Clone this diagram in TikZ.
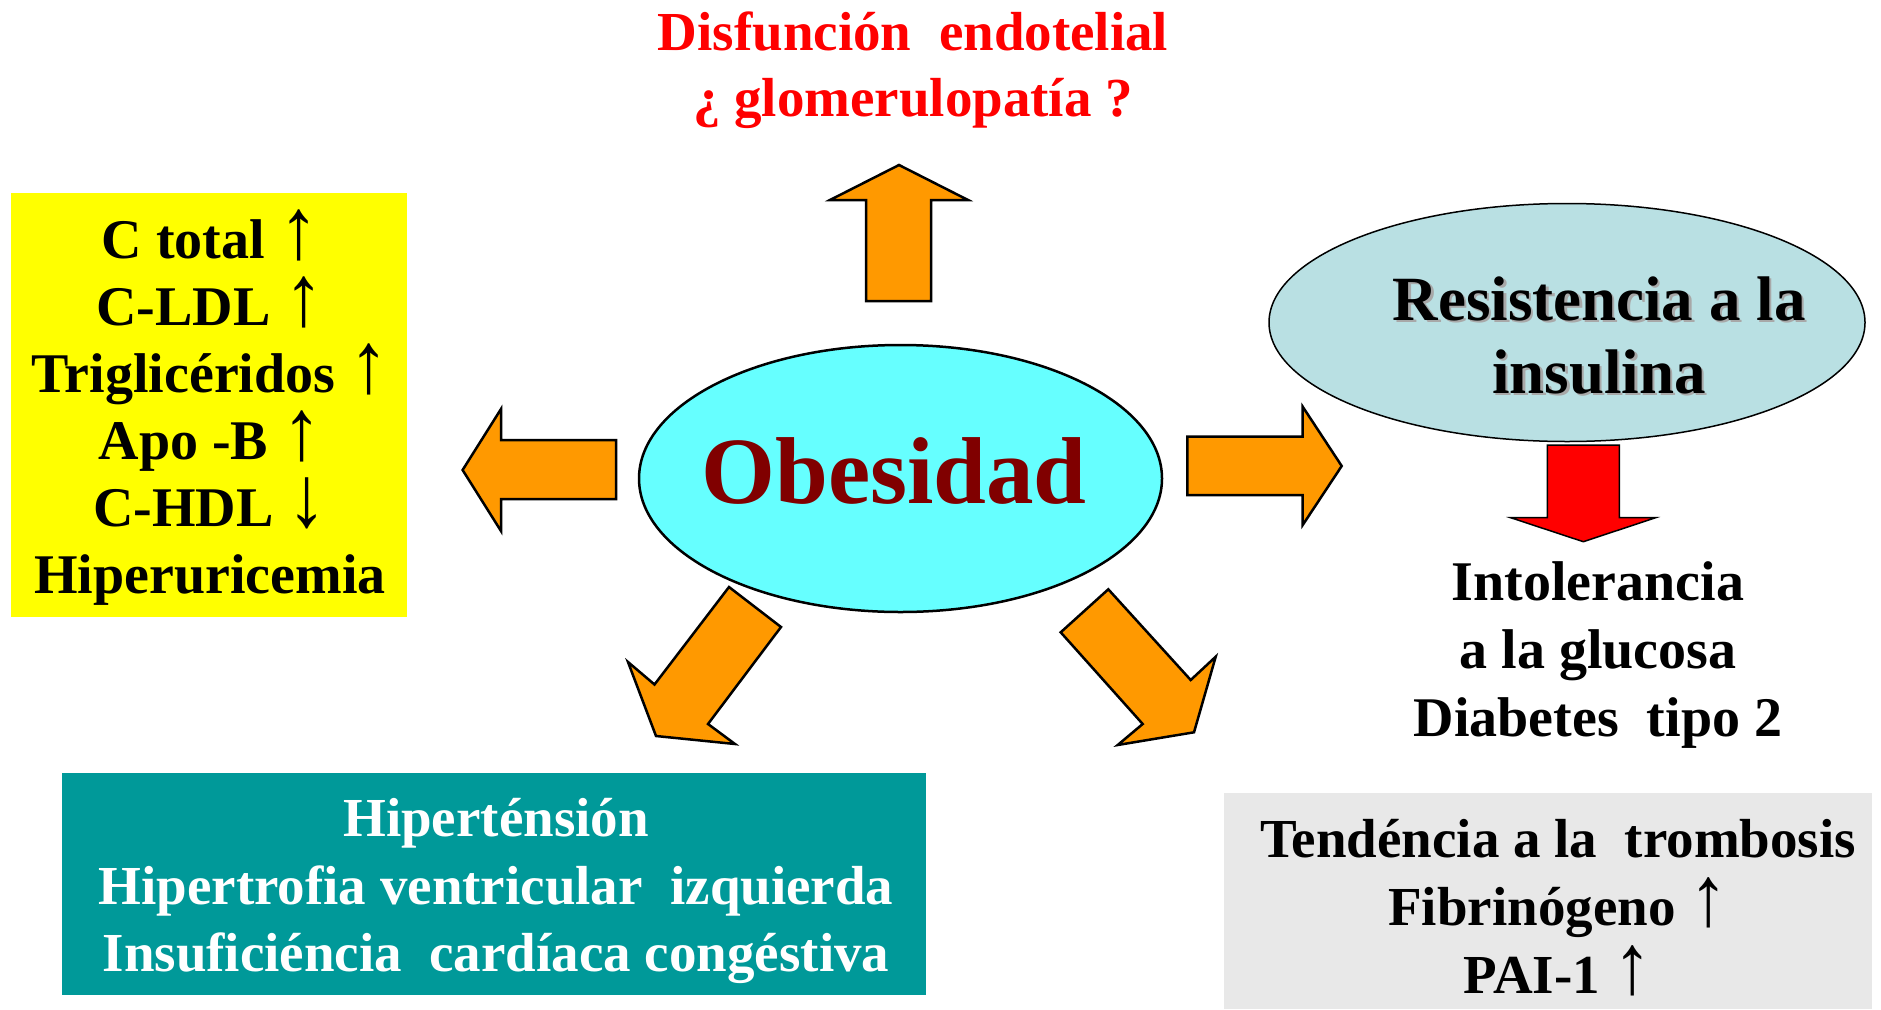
\documentclass[tikz,border=0pt]{standalone}
\usepackage{fontspec}
\setmainfont{Liberation Serif}
\definecolor{arroworange}{HTML}{FF9900}
\definecolor{obescyan}{HTML}{66FFFF}
\definecolor{obesred}{HTML}{800000}
\definecolor{resistblue}{HTML}{B9E0E3}
\definecolor{lipidyellow}{HTML}{FFFF00}
\definecolor{hiperteal}{HTML}{009999}
\definecolor{trombgray}{HTML}{E8E8E8}
\definecolor{shadowgray}{HTML}{A8A8A8}
\newcommand{\fsz}[2]{\fontsize{#1}{#2}\selectfont}
\newcommand{\shadowline}[1]{\makebox[0pt][l]{\hspace{2.5pt}\raisebox{-2.5pt}{\textcolor{shadowgray}{#1}}}#1}
\newcommand{\uparr}{\scalebox{1.4}[1.55]{\mdseries ↑}}
\newcommand{\downarr}{\scalebox{1.4}[1.55]{\mdseries ↓}}
\tikzset{
  bigarrow/.style={draw=black, line width=2.5pt, line join=miter, fill=arroworange},
  bigtext/.style={inner sep=0pt, anchor=base, align=center},
}

\begin{document}
\begin{tikzpicture}[x=1pt, y=-1pt]
		%%%%% START %%%%%
		\useasboundingbox[fill=white] (0, 0) rectangle (1881, 1009);
		
		% anchor=base of a node of several lines is the base of its last line
		\node[bigtext, text=red, font=\bfseries\fsz{55}{66.7}] (disfuncion) at (913, 116.7) {Disfunción\ \ endotelial\\¿ glomerulopatía ?};
		
		\fill[lipidyellow] (11, 193) rectangle (407, 617);
		\node[bigtext, font=\bfseries\fsz{56}{67}] (lipidos) at (210, 593) {C total \uparr\\C-LDL \uparr\\Triglicéridos \uparr\\Apo -B \uparr\\C-HDL \downarr\\Hiperuricemia};
		
		\draw[line width=2.5pt, fill=obescyan] (900.5, 478.5) ellipse [x radius=261.5pt, y radius=133.5pt];
		\node[bigtext, text=obesred, font=\bfseries\fsz{95}{95}] (obesidad) at (894, 503) {Obesidad};
		
		\draw[line width=1.5pt, fill=resistblue] (1567, 322.5) ellipse [x radius=298pt, y radius=119pt];
		\node[bigtext, font=\bfseries\fsz{63}{73.3}] (resistencia) at (1599, 393.3) {\shadowline{Resistencia a la}\\\shadowline{insulina}};
		
		\node[bigtext, font=\bfseries\fsz{56}{67.7}] (intolerancia) at (1598, 736) {Intolerancia\\a la glucosa\\Diabetes\ \ tipo 2};
		
		\fill[hiperteal] (62, 773) rectangle (926, 995);
		\node[bigtext, text=white, font=\bfseries\fsz{55}{67.5}] (hipertension) at (496, 971.7) {Hiperténsión\\Hipertrofia ventricular\ \ izquierda\\Insuficiéncia\ \ cardíaca congéstiva};
		
		\fill[trombgray] (1224, 793) rectangle (1872, 1009);
		\node[bigtext, font=\bfseries\fsz{55}{68}] (trombosis) at (1558, 993.3) {Tendéncia a la\ \ trombosis\\Fibrinógeno \uparr\\PAI-1 \uparr};
		
		% orange arrows out of Obesidad
		\draw[bigarrow] (866, 301) -- (866, 200) -- (830, 200) -- (899, 165) -- (968, 200) -- (931, 200) -- (931, 301) -- cycle;
		\draw[bigarrow] (616, 440) -- (501, 440) -- (501, 409) -- (462.6, 470) -- (501, 531) -- (501, 499) -- (616, 499) -- cycle;
		\draw[bigarrow] (1187.3, 436.7) -- (1302.7, 436.7) -- (1302.7, 406.7) -- (1341.7, 466) -- (1302.7, 525) -- (1302.7, 495) -- (1187.3, 495) -- cycle;
		\draw[bigarrow] (729, 587) -- (781, 627) -- (708, 724) -- (735, 744) -- (656, 736) -- (628, 662) -- (654.5, 684.5) -- cycle;
		\draw[bigarrow] (1108.3, 589.3) -- (1190.7, 680) -- (1215.7, 656.7) -- (1194, 732.3) -- (1117.7, 745) -- (1142.7, 724) -- (1060.7, 632.3) -- cycle;
		
		% red arrow under Resistencia
		\draw[line width=1.5pt, fill=red] (1547.3, 445) -- (1619.3, 445) -- (1619.3, 517.7) -- (1655.7, 517.7) -- (1583.3, 541.7) -- (1510.7, 517.7) -- (1547.3, 517.7) -- cycle;
		
		%%%%% END %%%%%
	\end{tikzpicture}
\end{document}
